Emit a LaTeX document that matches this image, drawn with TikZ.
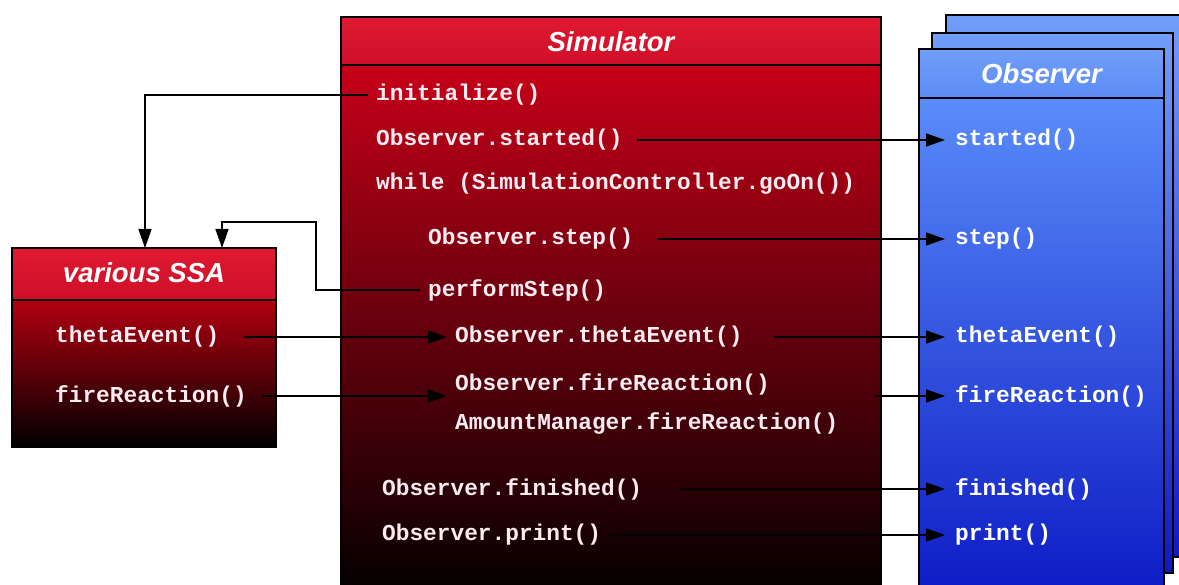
\documentclass[tikz,border=0pt]{standalone}
\usepackage{fontspec}
\setmainfont{Liberation Sans}
\newfontfamily\codefont{Liberation Mono}
\usetikzlibrary{arrows.meta}

\definecolor{redhead}{RGB}{224,26,50}
\definecolor{redheadlow}{RGB}{206,14,40}
\definecolor{redbody}{RGB}{198,0,24}
\definecolor{redmid}{RGB}{104,0,6}
\definecolor{ssabody}{RGB}{178,0,16}
\definecolor{ssamid}{RGB}{90,0,6}
\definecolor{bluehead}{RGB}{112,158,250}
\definecolor{blueheadlow}{RGB}{92,140,244}
\definecolor{bluebody}{RGB}{90,140,250}
\definecolor{bluemid}{RGB}{44,88,236}
\definecolor{bluelow}{RGB}{12,26,196}
\definecolor{codepink}{RGB}{252,236,242}

\begin{document}
\begin{tikzpicture}[x=1pt,y=-1pt,
  frame/.style={draw=black, line width=2pt},
  classtitle/.style={font=\fontsize{27.5}{30}\selectfont\bfseries\itshape, text=white, inner sep=0pt},
  code/.style={font=\codefont\bfseries\fontsize{22.8}{24}\selectfont, text=codepink, anchor=west, inner sep=0pt},
  ocode/.style={code, text=white},
  wire/.style={line width=1.5pt, draw=black},
  msg/.style={wire, -{Triangle[length=19pt,width=13pt]}}]
\useasboundingbox (0,0) rectangle (1179,585);

% ---- Observer stack (back to front) ----
\fill[top color=bluehead, bottom color=bluelow] (946,15) rectangle (1200,557);
\draw[frame] (946,15) rectangle (1200,557);
\fill[top color=bluehead, bottom color=bluelow] (932,33) rectangle (1173,573);
\draw[frame] (932,33) rectangle (1173,573);
\fill[top color=bluehead, bottom color=blueheadlow] (919,49) rectangle (1164,98);
\fill[top color=bluebody, middle color=bluemid, bottom color=bluelow] (919,98) rectangle (1164,600);
\draw[frame] (919,600) -- (919,49) -- (1164,49) -- (1164,600);
\draw[frame] (919,98) -- (1164,98);
\node[classtitle] (obstitle) at (1041.5,74) {Observer};

% ---- Simulator ----
\fill[top color=redhead, bottom color=redheadlow] (341,17) rectangle (881,65);
\fill[top color=redbody, middle color=redmid, bottom color=black] (341,65) rectangle (881,600);
\draw[frame] (341,600) -- (341,17) -- (881,17) -- (881,600);
\draw[frame] (341,65) -- (881,65);
\node[classtitle] (simtitle) at (611,42) {Simulator};

% ---- various SSA ----
\fill[top color=redhead, bottom color=redheadlow] (12,248) rectangle (276,300);
\fill[top color=ssabody, middle color=ssamid, bottom color=black] (12,300) rectangle (276,447);
\draw[frame] (12,248) rectangle (276,447);
\draw[frame] (12,300) -- (276,300);
\node[classtitle] (ssatitle) at (144,273) {various SSA};

% ---- operations ----
\node[code] (init)     at (376,95)  {initialize()};
\node[code] (sstarted) at (376,140) {Observer.started()};
\node[code] (loop)     at (376,184) {while (SimulationController.goOn())};
\node[code] (sstep)    at (428,239) {Observer.step()};
\node[code] (perform)  at (428,290) {performStep()};
\node[code] (stheta)   at (455,337) {Observer.thetaEvent()};
\node[code] (sfire)    at (455,384) {Observer.fireReaction()};
\node[code] (amount)   at (455,423) {AmountManager.fireReaction()};
\node[code] (sfinish)  at (382,489) {Observer.finished()};
\node[code] (sprint)   at (382,535) {Observer.print()};

\node[code] (atheta) at (55,337) {thetaEvent()};
\node[code] (afire)  at (55,396) {fireReaction()};

\node[ocode] (ostarted) at (955,140) {started()};
\node[ocode] (ostep)    at (955,239) {step()};
\node[ocode] (otheta)   at (955,337) {thetaEvent()};
\node[ocode] (ofire)    at (955,396) {fireReaction()};
\node[ocode] (ofinish)  at (955,489) {finished()};
\node[ocode] (oprint)   at (955,535) {print()};

% ---- connectors ----
\coordinate (firein)  at (447,396);
\coordinate (fireout) at (875,396);

\draw[msg] ([xshift=-8pt]init.west) -| (145,248);
\draw[msg] ([xshift=-8pt]perform.west) -- (316,290) -- (316,222) -| (222,248);

\draw[msg] ([xshift=14pt]sstarted.east) -- ([xshift=-10pt]ostarted.west);
\draw[msg] ([xshift=24pt]sstep.east) -- ([xshift=-10pt]ostep.west);
\draw[msg] ([xshift=24pt]atheta.east) -- ([xshift=-8pt]stheta.west);
\draw[msg] ([xshift=31pt]stheta.east) -- ([xshift=-10pt]otheta.west);
\draw[msg] ([xshift=16pt]afire.east) -- (firein);
\draw[msg] (fireout) -- ([xshift=-10pt]ofire.west);
\draw[msg] ([xshift=38pt]sfinish.east) -- ([xshift=-10pt]ofinish.west);
\draw[msg] ([xshift=9pt]sprint.east) -- ([xshift=-10pt]oprint.west);
\end{tikzpicture}
\end{document}
